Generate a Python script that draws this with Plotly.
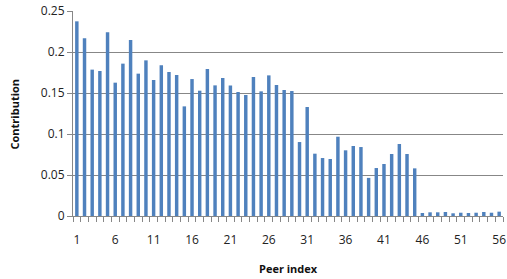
import plotly.graph_objects as go

peers = list(range(1, 57))
contribution = [
    0.2374, 0.2167, 0.1785, 0.1768, 0.2240, 0.1626, 0.1858, 0.2146, 0.1736, 0.1898,
    0.1659, 0.1837, 0.1756, 0.1720, 0.1337, 0.1670, 0.1528, 0.1793, 0.1593, 0.1683,
    0.1590, 0.1512, 0.1476, 0.1695, 0.1520, 0.1715, 0.1598, 0.1537, 0.1524, 0.0902,
    0.1329, 0.0760, 0.0707, 0.0695, 0.0967, 0.0801, 0.0854, 0.0841, 0.0465, 0.0585,
    0.0634, 0.0756, 0.0878, 0.0756, 0.0581, 0.0037, 0.0045, 0.0045, 0.0049, 0.0033,
    0.0040, 0.0037, 0.0040, 0.0049, 0.0040, 0.0053,
]
x_tick_vals = list(range(1, 57, 5))
x_tick_text = [str(v) for v in x_tick_vals]
y_tick_vals = [0, 0.05, 0.1, 0.15, 0.2, 0.25]
y_tick_text = ["0", "0.05", "0.1", "0.15", "0.2", "0.25"]

FONT = "Open Sans, Lato, sans-serif"
GRID = "#878787"

fig = go.Figure(
    go.Bar(
        x=peers,
        y=contribution,
        width=0.45,
        marker=dict(color="#4F81BD", line=dict(width=0)),
    )
)

fig.update_layout(
    width=507,
    height=279,
    margin=dict(l=73, r=1, t=11, b=63),
    paper_bgcolor="white",
    plot_bgcolor="white",
    showlegend=False,
    font=dict(family=FONT, size=12, color="#222"),
)

fig.update_xaxes(
    range=[0.5, 56.5],
    tickmode="array",
    tickvals=x_tick_vals,
    ticktext=x_tick_text,
    ticks="outside",
    ticklen=13,
    tickcolor="rgba(0,0,0,0)",
    ticklabeloverflow="allow",
    showline=True,
    linecolor=GRID,
    linewidth=1,
    showgrid=False,
    zeroline=False,
    tickfont=dict(family=FONT, size=12, color="#222"),
    minor=dict(tick0=0.5, dtick=1, ticks="outside", ticklen=5, tickcolor=GRID, showgrid=False),
)

fig.update_yaxes(
    range=[0, 0.25],
    tickmode="array",
    tickvals=y_tick_vals,
    ticktext=y_tick_text,
    ticks="outside",
    ticklen=5,
    tickcolor=GRID,
    showline=True,
    linecolor=GRID,
    linewidth=1,
    showgrid=True,
    gridcolor=GRID,
    gridwidth=1,
    zeroline=False,
    tickfont=dict(family=FONT, size=12, color="#222"),
)

fig.add_annotation(
    text="<b>Contribution</b>", xref="paper", yref="paper",
    x=-0.135, y=0.5, xanchor="center", yanchor="middle",
    textangle=-90, showarrow=False,
    font=dict(family=FONT, size=11, color="#111"),
)
fig.add_annotation(
    text="<b>Peer index</b>", xref="paper", yref="paper",
    x=0.5, y=-0.255, xanchor="center", yanchor="middle",
    showarrow=False,
    font=dict(family=FONT, size=11, color="#111"),
)

fig.write_html(
    "out.html",
    config={"displayModeBar": False},
    post_script="document.body.style.margin='0';document.body.style.overflow='hidden';",
)
